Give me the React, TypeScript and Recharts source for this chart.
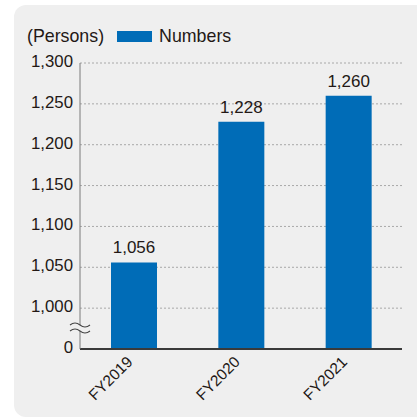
import React from "react";
import { BarChart, Bar, XAxis, YAxis, CartesianGrid, Legend, LabelList } from "recharts";

const categories = ["FY2019", "FY2020", "FY2021"];
const numbers = [1056, 1228, 1260];
const yTickValues = [950, 1000, 1050, 1100, 1150, 1200, 1250, 1300];
const yTickLabels = ["0", "1,000", "1,050", "1,100", "1,150", "1,200", "1,250", "1,300"];
const seriesName = "Numbers";
const unitLabel = "(Persons)";

const data = categories.map((c, i) => ({ category: c, value: numbers[i] }));

const TEXT = "#231815";
const BAR = "#006cb7";
const BG = "#efefef";
const FONT = "'Liberation Sans', Arial, Helvetica, sans-serif";

const fmt = (v: number) => v.toLocaleString("en-US");

const BreakMark = ({ cx, cy }: { cx: number; cy: number }) => {
  const top = `M${cx - 10},${cy - 3} q5,-4 10,0 t10,0`;
  const bot = `M${cx - 10},${cy + 3} q5,-4 10,0 t10,0`;
  const fill = `M${cx - 10},${cy - 3} q5,-4 10,0 t10,0 L${cx + 10},${cy + 3} q-5,4 -10,0 t-10,0 Z`;
  return (
    <g>
      <path d={fill} fill={BG} stroke="none" />
      <path d={top} fill="none" stroke="#444" strokeWidth={1.1} />
      <path d={bot} fill="none" stroke="#444" strokeWidth={1.1} />
    </g>
  );
};

const YTick = (props: any) => {
  const { x, y, payload } = props;
  const idx = yTickValues.indexOf(payload.value);
  return (
    <g>
      <text x={x} y={y} dy={4} textAnchor="end" fontSize={16.8} fill={TEXT} fontFamily={FONT}>
        {yTickLabels[idx]}
      </text>
      {payload.value === yTickValues[0] && <BreakMark cx={x + 7} cy={y - 21} />}
    </g>
  );
};

const XTick = (props: any) => {
  const { x, y, payload } = props;
  return (
    <g transform={`translate(${x - 4},${y + 10}) rotate(-45)`}>
      <text x={0} y={0} dy="0.35em" textAnchor="end" fontSize={15.5} fill={TEXT} fontFamily={FONT}>
        {payload.value}
      </text>
    </g>
  );
};

const LegendContent = () => (
  <div
    style={{
      height: 30,
      display: "flex",
      alignItems: "center",
      fontFamily: FONT,
      fontSize: 17.8,
      color: TEXT,
      whiteSpace: "nowrap",
    }}
  >
    <span style={{ marginRight: 13 }}>{unitLabel}</span>
    <span style={{ display: "inline-block", width: 35, height: 11, background: BAR, marginRight: 7 }} />
    <span>{seriesName}</span>
  </div>
);

export default function App() {
  return (
    <div
      style={{
        position: "absolute",
        left: 0,
        top: 0,
        width: 417,
        height: 418,
        overflow: "hidden",
        background: "#ffffff",
      }}
    >
      <div
        style={{
          position: "absolute",
          left: 14,
          top: 5,
          width: 430,
          height: 412,
          borderRadius: 12,
          background: BG,
        }}
      />
      <div style={{ position: "absolute", left: 0, top: 0 }}>
        <BarChart width={417} height={418} data={data} margin={{ top: 33, right: 15, bottom: 9, left: 0 }}>
          <Legend
            verticalAlign="top"
            align="left"
            content={LegendContent}
            wrapperStyle={{ top: 21, left: 27, width: "auto" }}
          />
          <CartesianGrid vertical={false} stroke="#a8a8a8" strokeDasharray="2 2" />
          <XAxis
            dataKey="category"
            height={60}
            tickSize={0}
            tickMargin={0}
            tick={XTick}
            axisLine={{ stroke: "#3a3a3a", strokeWidth: 2 }}
            tickLine={false}
            interval={0}
          />
          <YAxis
            type="number"
            domain={[yTickValues[0], yTickValues[yTickValues.length - 1]]}
            ticks={yTickValues}
            interval={0}
            width={80}
            tickSize={0}
            tickMargin={7}
            tick={YTick}
            tickLine={false}
            axisLine={{ stroke: "#7a7a7a", strokeWidth: 1 }}
            allowDataOverflow
          />
          <Bar dataKey="value" name={seriesName} fill={BAR} barSize={46} isAnimationActive={false}>
            <LabelList
              dataKey="value"
              position="top"
              offset={9}
              formatter={(v: any) => fmt(Number(v))}
              fill={TEXT}
              fontSize={17}
              fontFamily={FONT}
            />
          </Bar>
        </BarChart>
      </div>
    </div>
  );
}
